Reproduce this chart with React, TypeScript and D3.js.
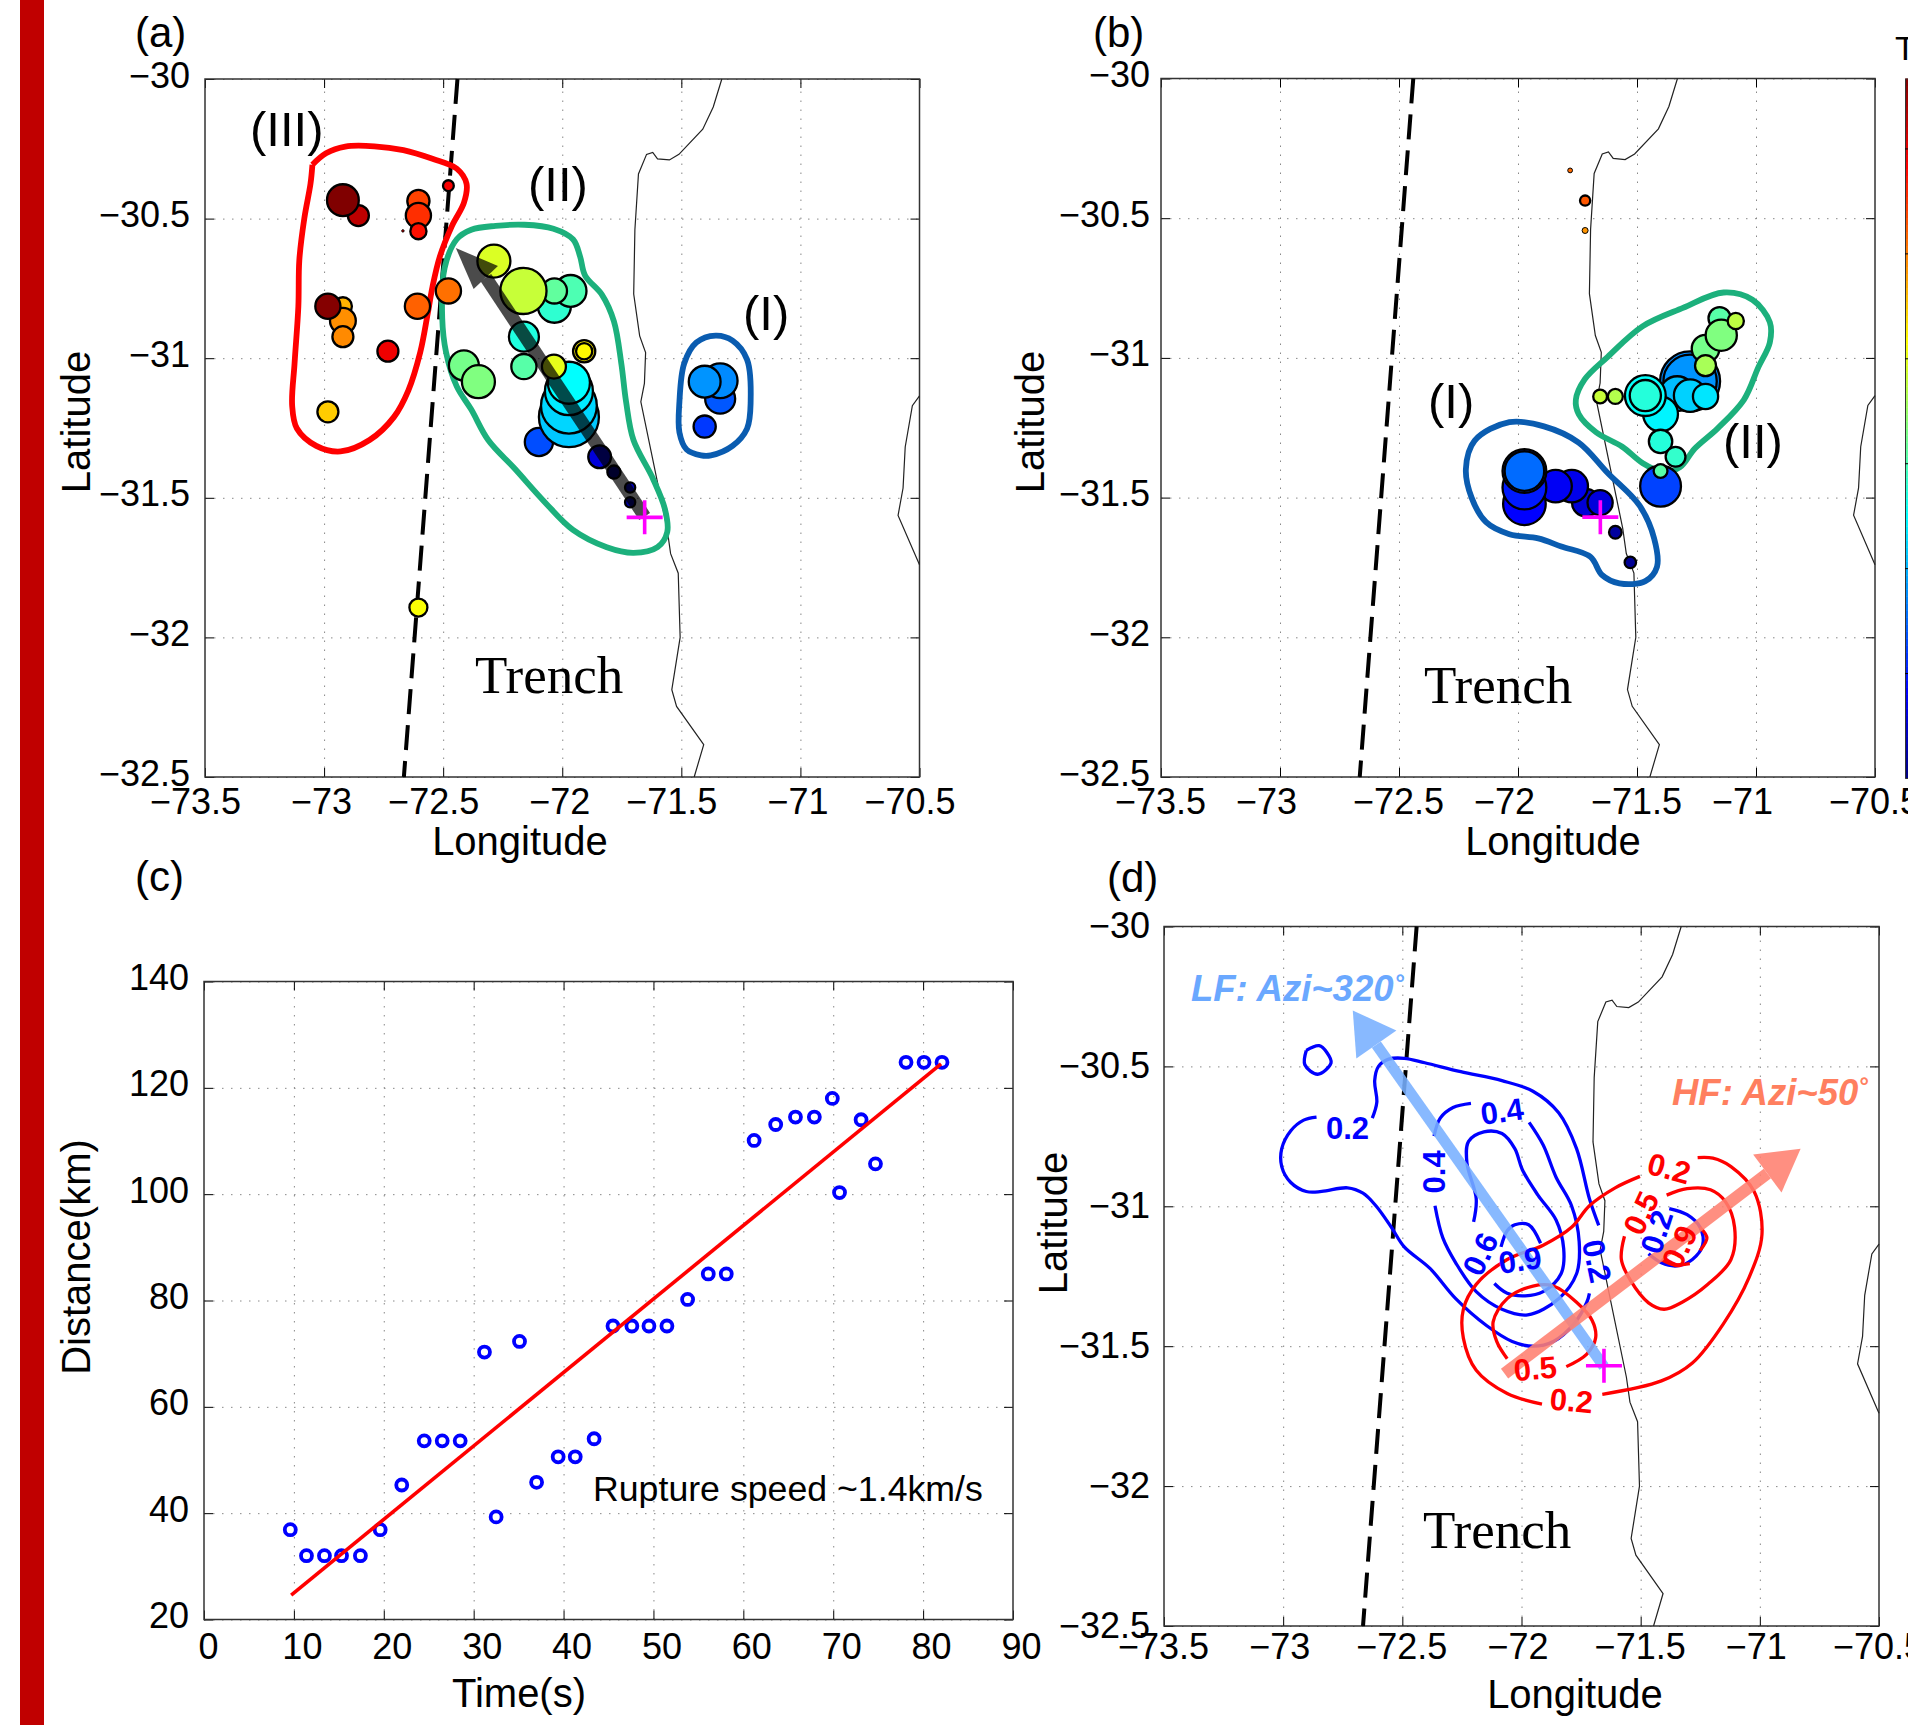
import React, { useEffect, useRef } from 'react';
import * as d3 from 'd3';

const lonTicks = [-73.5, -73, -72.5, -72, -71.5, -71, -70.5];
const latTicks = [-30, -30.5, -31, -31.5, -32, -32.5];
const timeTicks = [0, 10, 20, 30, 40, 50, 60, 70, 80, 90];
const distTicks = [20, 40, 60, 80, 100, 120, 140];

const epicenter = [-71.654, -31.57];

// lon, lat
const trench = [[-72.44, -30], [-72.665, -32.5]];
const coastMain = [
  [-71.33, -30], [-71.366, -30.1], [-71.41, -30.18], [-71.51, -30.27], [-71.55, -30.29], [-71.6, -30.286],
  [-71.62, -30.263], [-71.646, -30.27], [-71.68, -30.34], [-71.695, -30.54], [-71.7, -30.77], [-71.675, -30.92],
  [-71.65, -30.98], [-71.655, -31.09], [-71.67, -31.156], [-71.56, -31.61], [-71.545, -31.7], [-71.513, -31.77],
  [-71.505, -32], [-71.54, -32.187], [-71.52, -32.247], [-71.406, -32.384], [-71.446, -32.5],
];
const coastEast = [
  [-70.5, -31.135], [-70.53, -31.17], [-70.56, -31.318], [-70.569, -31.465], [-70.59, -31.563], [-70.5, -31.74],
];

// lon, lat, size (0-1), time
const eventsA = [
  [-71.783, -31.408, 0.22, 2], [-71.715, -31.516, 0.17, 3], [-71.715, -31.463, 0.17, 6], [-71.843, -31.353, 0.38, 9],
  [-71.402, -31.245, 0.37, 18], [-72.098, -31.3, 0.47, 20], [-71.337, -31.145, 0.5, 21], [-71.337, -31.081, 0.58, 26],
  [-71.402, -31.084, 0.53, 27], [-71.972, -31.211, 1, 32], [-71.972, -31.17, 0.93, 33.5], [-71.972, -31.118, 0.8, 35.5],
  [-71.972, -31.088, 0.7, 37.5], [-72.161, -30.923, 0.5, 40.5], [-72.033, -30.814, 0.55, 42],
  [-71.965, -30.759, 0.53, 45], [-72.161, -31.03, 0.42, 46], [-72.033, -30.759, 0.42, 47], [-72.413, -31.026, 0.5, 49],
  [-72.352, -31.084, 0.55, 50], [-72.163, -30.759, 0.77, 57], [-72.287, -30.652, 0.55, 59], [-72.035, -31.03, 0.4, 60],
  [-72.604, -31.893, 0.3, 62], [-71.908, -30.975, 0.37, 64], [-71.908, -30.975, 0.27, 63], [-72.984, -31.192, 0.35, 67.5],
  [-72.921, -30.814, 0.3, 70], [-72.921, -30.866, 0.43, 73.5], [-72.921, -30.923, 0.35, 74], [-72.478, -30.759, 0.42, 76.5],
  [-72.608, -30.814, 0.42, 78], [-72.604, -30.437, 0.37, 81], [-72.604, -30.489, 0.42, 83], [-72.604, -30.545, 0.27, 86],
  [-72.669, -30.544, 0.04, 87], [-72.478, -30.382, 0.18, 88], [-72.732, -30.975, 0.35, 89], [-72.856, -30.489, 0.35, 94],
  [-72.984, -30.814, 0.42, 99.5], [-72.921, -30.434, 0.53, 100],
];
const eventsB = [
  [-71.528, -31.732, 0.19, 2], [-71.591, -31.624, 0.21, 3], [-71.715, -31.518, 0.46, 8.5], [-71.655, -31.518, 0.42, 9],
  [-71.774, -31.459, 0.54, 10.5], [-71.842, -31.459, 0.54, 11.5], [-71.973, -31.522, 0.71, 12.5], [-71.973, -31.464, 0.73, 15],
  [-71.973, -31.405, 0.73, 18.5], [-71.401, -31.459, 0.68, 19], [-71.973, -31.405, 0.66, 23],
  [-71.277, -31.084, 1, 26], [-71.277, -31.084, 0.89, 27], [-71.331, -31.128, 0.58, 31], [-71.277, -31.135, 0.54, 33],
  [-71.212, -31.138, 0.42, 35], [-71.401, -31.201, 0.58, 36.5], [-71.465, -31.135, 0.68, 38], [-71.465, -31.135, 0.52, 41],
  [-71.401, -31.299, 0.39, 41], [-71.338, -31.354, 0.33, 42.5], [-71.401, -31.405, 0.23, 46], [-71.153, -30.858, 0.37, 46],
  [-71.212, -30.967, 0.46, 49], [-71.146, -30.919, 0.52, 50], [-71.212, -31.028, 0.35, 54], [-71.591, -31.138, 0.25, 55],
  [-71.085, -30.868, 0.27, 56], [-71.655, -31.138, 0.23, 57], [-71.718, -30.544, 0.1, 73], [-71.781, -30.329, 0.08, 77],
  [-71.718, -30.437, 0.17, 79],
];

// hand drawn region outlines
const regionA3 = [
  [-73.049, -30.307], [-72.992, -30.266], [-72.911, -30.242], [-72.789, -30.241], [-72.667, -30.255], [-72.545, -30.286],
  [-72.443, -30.321], [-72.402, -30.375], [-72.413, -30.444], [-72.463, -30.526], [-72.514, -30.636], [-72.545, -30.745],
  [-72.565, -30.841], [-72.596, -30.978], [-72.646, -31.115], [-72.707, -31.211], [-72.809, -31.293], [-72.931, -31.334],
  [-73.033, -31.314], [-73.114, -31.252], [-73.134, -31.17], [-73.124, -31.019], [-73.108, -30.814], [-73.104, -30.649],
  [-73.083, -30.499], [-73.057, -30.375], [-73.049, -30.307],
];
const regionA2 = [
  [-72.443, -30.574], [-72.382, -30.54], [-72.28, -30.526], [-72.159, -30.522], [-72.037, -30.536], [-71.955, -30.574],
  [-71.925, -30.636], [-71.904, -30.704], [-71.833, -30.773], [-71.783, -30.868], [-71.752, -31.019], [-71.732, -31.156],
  [-71.701, -31.293], [-71.62, -31.43], [-71.569, -31.54], [-71.559, -31.622], [-71.6, -31.677], [-71.701, -31.697],
  [-71.813, -31.677], [-71.955, -31.615], [-72.077, -31.512], [-72.199, -31.396], [-72.311, -31.293], [-72.382, -31.184],
  [-72.443, -31.101], [-72.488, -30.978], [-72.504, -30.855], [-72.494, -30.677],
];
const regionA1 = [
  [-71.376, -31.348], [-71.285, -31.314], [-71.224, -31.252], [-71.209, -31.156], [-71.224, -31.005], [-71.285, -30.937],
  [-71.356, -30.919], [-71.437, -30.944], [-71.488, -31.019], [-71.508, -31.156], [-71.508, -31.266], [-71.478, -31.327],
  [-71.417, -31.348],
];
const regionB1 = [
  [-72.036, -31.23], [-71.891, -31.245], [-71.745, -31.303], [-71.623, -31.412], [-71.489, -31.529], [-71.428, -31.646],
  [-71.416, -31.748], [-71.465, -31.799], [-71.574, -31.807], [-71.647, -31.777], [-71.696, -31.712], [-71.818, -31.675],
  [-71.915, -31.646], [-72.036, -31.631], [-72.134, -31.588], [-72.195, -31.5], [-72.219, -31.398], [-72.182, -31.296],
];
const regionB2 = [
  [-71.136, -30.766], [-71.015, -30.792], [-70.942, -30.872], [-70.942, -30.945], [-70.99, -31.033], [-71.051, -31.15],
  [-71.161, -31.252], [-71.258, -31.325], [-71.319, -31.391], [-71.392, -31.408], [-71.477, -31.376], [-71.562, -31.318],
  [-71.672, -31.266], [-71.745, -31.201], [-71.757, -31.15], [-71.72, -31.077], [-71.623, -30.996], [-71.477, -30.887],
  [-71.307, -30.821],
];

// panel d, low frequency contours
const lfContours = [
  [[-72.903, -30.443], [-72.849, -30.426], [-72.816, -30.451], [-72.799, -30.487], [-72.855, -30.528], [-72.909, -30.494], [-72.903, -30.443]],
  [[-72.86, -30.681], [-72.914, -30.692], [-72.968, -30.73], [-73.006, -30.794], [-73.006, -30.858], [-72.968, -30.915],
    [-72.903, -30.947], [-72.838, -30.947], [-72.73, -30.934], [-72.665, -30.953], [-72.611, -30.998], [-72.546, -31.075],
    [-72.492, -31.145], [-72.384, -31.222], [-72.276, -31.33], [-72.147, -31.426], [-72.039, -31.483], [-71.952, -31.5],
    [-71.866, -31.483], [-71.78, -31.42], [-71.726, -31.343], [-71.715, -31.311]],
  [[-71.676, -31.068], [-71.715, -30.973], [-71.769, -30.794], [-71.844, -30.666], [-71.952, -30.589], [-72.082, -30.551],
    [-72.255, -30.519], [-72.406, -30.487], [-72.492, -30.471], [-72.557, -30.474], [-72.6, -30.5], [-72.616, -30.551],
    [-72.607, -30.628], [-72.626, -30.685]],
  [[-72.367, -30.749], [-72.341, -30.685], [-72.287, -30.647], [-72.212, -30.632]],
  [[-71.968, -30.7], [-71.909, -30.781], [-71.855, -30.896], [-71.79, -30.998], [-71.758, -31.126], [-71.769, -31.241],
    [-71.844, -31.33], [-71.974, -31.388], [-72.082, -31.368], [-72.19, -31.305], [-72.276, -31.202], [-72.33, -31.113], [-72.363, -30.998]],
  [[-72.201, -31.056], [-72.19, -30.973], [-72.229, -30.845], [-72.222, -30.768], [-72.158, -30.734], [-72.082, -30.74],
    [-72.028, -30.794], [-71.996, -30.87], [-71.931, -30.96], [-71.855, -31.049], [-71.823, -31.151], [-71.834, -31.241],
    [-71.909, -31.305], [-71.985, -31.32], [-72.06, -31.311], [-72.114, -31.276]],
  [[-72.086, -31.145], [-72.06, -31.087], [-72.028, -31.066], [-71.97, -31.066], [-71.92, -31.132]],
  [[-71.38, -31.008], [-71.305, -31.03], [-71.251, -31.075], [-71.24, -31.139], [-71.283, -31.19], [-71.348, -31.213], [-71.413, -31.202], [-71.467, -31.17]],
];
// panel d, high frequency contours
const hfContours = [
  [[-71.503, -30.893], [-71.607, -30.934], [-71.715, -30.998], [-71.79, -31.075], [-71.909, -31.139], [-72.06, -31.19],
    [-72.19, -31.279], [-72.244, -31.368], [-72.244, -31.471], [-72.19, -31.586], [-72.06, -31.669], [-71.914, -31.707]],
  [[-71.661, -31.672], [-71.413, -31.624], [-71.283, -31.56], [-71.153, -31.42], [-71.045, -31.254], [-70.991, -31.1],
    [-71.024, -30.947], [-71.121, -30.858], [-71.197, -30.828], [-71.261, -30.826]],
  [[-71.391, -30.96], [-71.305, -30.937], [-71.207, -30.941], [-71.143, -30.985], [-71.106, -31.075], [-71.121, -31.19],
    [-71.218, -31.279], [-71.326, -31.343], [-71.402, -31.368], [-71.467, -31.345], [-71.542, -31.266], [-71.581, -31.19], [-71.568, -31.107]],
  [[-71.251, -31.075], [-71.222, -31.113], [-71.251, -31.158]],
  [[-71.413, -31.19], [-71.359, -31.209], [-71.294, -31.205]],
  [[-72.06, -31.545], [-72.104, -31.483], [-72.119, -31.413], [-72.06, -31.33], [-71.952, -31.285], [-71.866, -31.285],
    [-71.769, -31.343], [-71.704, -31.407], [-71.689, -31.471], [-71.726, -31.528], [-71.812, -31.573]],
];
// text, lon, lat, rotation
const lfLabels = [
  ['0.2', -72.73, -30.72, 0], ['0.4', -72.082, -30.66, -8], ['0.4', -72.367, -30.877, -90], ['0.6', -72.173, -31.17, -65],
  ['0.9', -72.006, -31.192, -8], ['0.2', -71.683, -31.196, 78], ['0.2', -71.434, -31.091, -72],
];
const hfLabels = [
  ['0.2', -71.38, -30.864, 15], ['0.5', -71.499, -31.024, -65], ['0.9', -71.337, -31.145, -65], ['0.5', -71.942, -31.579, -5], ['0.2', -71.79, -31.694, 5],
];

// tail, tip, barb, barb
const arrowRupture = [[-71.654, -31.567], [-72.447, -30.605], [-72.27, -30.67], [-72.372, -30.752]];
const arrowLF = [[-71.654, -31.573], [-72.708, -30.3], [-72.525, -30.372], [-72.693, -30.472]];
const arrowHF = [[-72.071, -31.598], [-70.829, -30.794], [-71.028, -30.815], [-70.909, -30.951]];

// panel c
const ruptureTime = [
  9.6, 11.4, 13.4, 15.3, 17.4, 19.6, 22, 24.5, 26.5, 28.5, 31.2, 32.5, 35.1, 37, 39.4, 41.3, 43.4, 45.5, 47.6, 49.5,
  51.5, 53.8, 56.1, 58.1, 61.2, 63.6, 65.8, 67.9, 69.9, 70.7, 73.1, 74.7, 78.1, 80.1, 82.1,
];
const ruptureDist = [
  36.9, 32, 32, 32, 32, 36.9, 45.3, 53.6, 53.6, 53.6, 70.3, 39.3, 72.3, 45.8, 50.6, 50.6, 54, 75.2, 75.2, 75.2,
  75.2, 80.2, 85, 85, 110.1, 113.1, 114.5, 114.5, 118, 100.3, 114, 105.7, 124.8, 124.8, 124.8,
];
const fitTime = [9.7, 82];
const fitDist = [24.6, 124.5];

const colorbarTicks = [15, 30, 45, 60, 75, 90];

const SANS = '"Liberation Sans", Arial, sans-serif';
const SERIF = '"Liberation Serif", serif';

const jet = d3.scaleLinear<string>()
  .domain([0, 12.5, 37.5, 62.5, 87.5, 100])
  .range(['#000080', '#0000ff', '#00ffff', '#ffff00', '#ff0000', '#800000']);

const sizeScale = d3.scaleLinear().domain([0, 1]).range([0, 30]);
const numFmt = d3.format('');

function addText(g, txt, x, y, size, opts: any = {}) {
  const t = g.append('text')
    .attr('x', x)
    .attr('y', y)
    .attr('font-size', size)
    .attr('font-family', opts.family || SANS)
    .attr('fill', opts.fill || '#000')
    .attr('text-anchor', opts.anchor || 'start')
    .text(txt);
  if (opts.weight) t.attr('font-weight', opts.weight);
  if (opts.italic) t.attr('font-style', 'italic');
  if (opts.rotate !== undefined) t.attr('transform', 'rotate(' + opts.rotate + ' ' + x + ' ' + y + ')');
  return t;
}

// grid, ticks on all four sides, box and tick labels
function drawFrame(g, x, y, box, xTicks, yTicks, o) {
  const w = box.right - box.left;
  const h = box.bottom - box.top;

  const grid = g.append('g').attr('class', 'grid');
  grid.append('g').attr('transform', 'translate(0,' + box.bottom + ')')
    .call(d3.axisBottom(x).tickValues(xTicks.slice(1, -1)).tickSize(-h).tickFormat(() => ''));
  grid.append('g').attr('transform', 'translate(' + box.left + ',0)')
    .call(d3.axisLeft(y).tickValues(yTicks).tickSize(-w).tickFormat(() => ''));
  grid.selectAll('.domain').remove();
  grid.selectAll('line').attr('stroke', '#888').attr('stroke-width', 1).attr('stroke-dasharray', '1.5 7.5');

  const bottomAxis = g.append('g').attr('transform', 'translate(0,' + box.bottom + ')')
    .call(d3.axisBottom(x).tickValues(xTicks).tickSizeInner(-9).tickSizeOuter(0).tickFormat(numFmt));
  bottomAxis.selectAll('text')
    .attr('y', o.xBaseline).attr('dy', 0)
    .attr('dx', (d, i) => o.xShift(d, i))
    .attr('font-size', 36).attr('font-family', SANS).attr('fill', '#000');

  const leftAxis = g.append('g').attr('transform', 'translate(' + box.left + ',0)')
    .call(d3.axisLeft(y).tickValues(yTicks).tickSizeInner(-9).tickSizeOuter(0).tickFormat(numFmt));
  leftAxis.selectAll('text')
    .attr('x', -o.yGap).attr('y', o.yBaseline).attr('dy', 0)
    .attr('font-size', 36).attr('font-family', SANS).attr('fill', '#000');

  g.append('g').attr('transform', 'translate(0,' + box.top + ')')
    .call(d3.axisTop(x).tickValues(xTicks).tickSizeInner(-9).tickSizeOuter(0).tickFormat(() => ''));
  g.append('g').attr('transform', 'translate(' + box.right + ',0)')
    .call(d3.axisRight(y).tickValues(yTicks).tickSizeInner(-9).tickSizeOuter(0).tickFormat(() => ''));
  g.selectAll('.domain').remove();

  g.append('rect')
    .attr('x', box.left).attr('y', box.top).attr('width', w).attr('height', h)
    .attr('fill', 'none').attr('stroke', '#333').attr('stroke-width', 1.5);
}

function drawBase(g, x, y, box, o) {
  drawFrame(g, x, y, box, lonTicks, latTicks, o);
  const line = d3.line().x((d) => x(d[0])).y((d) => y(d[1]));

  g.append('path').attr('d', line(coastMain)).attr('fill', 'none').attr('stroke', '#222').attr('stroke-width', 1.2);
  g.append('path').attr('d', line(coastEast)).attr('fill', 'none').attr('stroke', '#222').attr('stroke-width', 1.2);
  g.append('path').attr('d', line(trench))
    .attr('fill', 'none').attr('stroke', '#000').attr('stroke-width', 4).attr('stroke-dasharray', '25 11');
}

function drawRegion(g, x, y, pts, color, closed = true) {
  const line = d3.line().x((d) => x(d[0])).y((d) => y(d[1]))
    .curve(closed ? d3.curveCatmullRomClosed : d3.curveCatmullRom);
  g.append('path').attr('d', line(pts)).attr('fill', 'none').attr('stroke', color).attr('stroke-width', 5.8);
}

function drawEvents(g, x, y, events) {
  g.append('g').selectAll('circle').data(events).join('circle')
    .attr('cx', (d) => x(d[0]))
    .attr('cy', (d) => y(d[1]))
    .attr('r', (d) => sizeScale(d[2]))
    .attr('fill', (d) => jet(d[3]))
    .attr('stroke', '#000')
    .attr('stroke-width', (d) => (d[2] < 0.12 ? 1 : 2.3));
}

function drawArrow(g, x, y, arrow, color, opacity, shaftW) {
  const [tail, tip, b1, b2] = arrow;
  const neck = [(b1[0] + b2[0]) / 2, (b1[1] + b2[1]) / 2];
  const a = g.append('g').attr('opacity', opacity);
  a.append('line')
    .attr('x1', x(tail[0])).attr('y1', y(tail[1]))
    .attr('x2', x(neck[0])).attr('y2', y(neck[1]))
    .attr('stroke', color).attr('stroke-width', shaftW);
  const tri = d3.line().x((d) => x(d[0])).y((d) => y(d[1]));
  a.append('path').attr('d', tri([tip, b1, b2]) + 'Z').attr('fill', color);
}

function drawCross(g, x, y) {
  const cx = x(epicenter[0]);
  const cy = y(epicenter[1]);
  g.append('path')
    .attr('d', 'M' + (cx - 18) + ',' + cy + 'H' + (cx + 18) + 'M' + cx + ',' + (cy - 17) + 'V' + (cy + 17))
    .attr('stroke', '#ff00ff').attr('stroke-width', 3.6).attr('fill', 'none');
}

function drawContours(g, x, y, segs, color) {
  const line = d3.line().x((d) => x(d[0])).y((d) => y(d[1])).curve(d3.curveCatmullRom);
  segs.forEach((s) => {
    g.append('path').attr('d', line(s)).attr('fill', 'none').attr('stroke', color).attr('stroke-width', 3.3);
  });
}

function drawContourLabels(g, x, y, labels, color) {
  labels.forEach((l) => {
    addText(g, l[0], x(l[1]), y(l[2]) + 11, 31, { fill: color, weight: 'bold', anchor: 'middle' })
      .attr('transform', 'rotate(' + l[3] + ' ' + x(l[1]) + ' ' + y(l[2]) + ')');
  });
}

function renderAll(node) {
  const svg = d3.select(node);
  svg.selectAll('*').remove();

  svg.append('rect').attr('x', 20).attr('y', 0).attr('width', 24).attr('height', 1725).attr('fill', '#c00000');

  // (a)
  const boxA = { left: 205, right: 919.5, top: 79, bottom: 777 };
  const xA = d3.scaleLinear().domain([-73.5, -70.5]).range([boxA.left, boxA.right]);
  const yA = d3.scaleLinear().domain([-32.5, -30]).range([boxA.bottom, boxA.top]);
  const gA = svg.append('g');
  drawBase(gA, xA, yA, boxA, {
    xBaseline: 37, yBaseline: 8, yGap: 15,
    xShift: (d) => (d % 1 === 0 ? -3 : -10),
  });
  drawRegion(gA, xA, yA, regionA3, '#ff0000', false);
  drawRegion(gA, xA, yA, regionA2, '#1cb07c');
  drawRegion(gA, xA, yA, regionA1, '#0a5cb0');
  drawEvents(gA, xA, yA, eventsA);
  drawArrow(gA, xA, yA, arrowRupture, '#000', 0.7, 13);
  drawCross(gA, xA, yA);
  addText(gA, '(a)', 135, 47, 42);
  addText(gA, '(III)', 250, 146, 49);
  addText(gA, '(II)', 528, 201, 49);
  addText(gA, '(I)', 743, 330, 49);
  addText(gA, 'Trench', 475, 693, 53, { family: SERIF });
  addText(gA, 'Longitude', 520, 855, 40, { anchor: 'middle' });
  addText(gA, 'Latitude', 90, 422, 40, { anchor: 'middle', rotate: -90 });

  // (b)
  const boxB = { left: 1161, right: 1875, top: 78.5, bottom: 777 };
  const xB = d3.scaleLinear().domain([-73.5, -70.5]).range([boxB.left, boxB.right]);
  const yB = d3.scaleLinear().domain([-32.5, -30]).range([boxB.bottom, boxB.top]);
  const gB = svg.append('g');
  drawBase(gB, xB, yB, boxB, {
    xBaseline: 37, yBaseline: 8, yGap: 11,
    xShift: (d) => (d % 1 === 0 ? -14 : -1),
  });
  drawRegion(gB, xB, yB, regionB1, '#0a5cb0');
  drawRegion(gB, xB, yB, regionB2, '#1cb07c');
  drawEvents(gB, xB, yB, eventsB);
  drawCross(gB, xB, yB);
  addText(gB, '(b)', 1093, 47, 42);
  addText(gB, '(I)', 1428, 418, 49);
  addText(gB, '(II)', 1723, 458, 49);
  addText(gB, 'Trench', 1424, 703, 53, { family: SERIF });
  addText(gB, 'Longitude', 1553, 855, 40, { anchor: 'middle' });
  addText(gB, 'Latitude', 1044, 422, 40, { anchor: 'middle', rotate: -90 });

  // colorbar, runs off the right edge of the page
  const cbar = d3.scaleLinear().domain([0, 100]).range([778, 78.5]);
  svg.append('g').selectAll('rect').data(d3.range(0, 100)).join('rect')
    .attr('x', 1905).attr('width', 4)
    .attr('y', (d) => cbar(d + 1))
    .attr('height', (d) => cbar(d) - cbar(d + 1) + 0.5)
    .attr('fill', (d) => jet(d + 0.5));
  svg.append('g').attr('transform', 'translate(1905,0)')
    .call(d3.axisRight(cbar).tickValues(colorbarTicks).tickSize(3).tickFormat(() => ''))
    .select('.domain').attr('stroke', '#333');
  addText(svg, 'Time(s)', 1895, 60, 34);

  // (c)
  const boxC = { left: 204, right: 1013, top: 981.5, bottom: 1619.5 };
  const xC = d3.scaleLinear().domain([0, 90]).range([boxC.left, boxC.right]);
  const yC = d3.scaleLinear().domain([20, 140]).range([boxC.bottom, boxC.top]);
  const gC = svg.append('g');
  drawFrame(gC, xC, yC, boxC, timeTicks, distTicks, {
    xBaseline: 39, yBaseline: 8, yGap: 15,
    xShift: (d) => (d === 0 ? 4 : 8),
  });
  gC.append('g').selectAll('circle').data(ruptureTime).join('circle')
    .attr('cx', (d) => xC(d))
    .attr('cy', (d, i) => yC(ruptureDist[i]))
    .attr('r', 5.5)
    .attr('fill', 'none').attr('stroke', '#0000ff').attr('stroke-width', 3.8);
  gC.append('line')
    .attr('x1', xC(fitTime[0])).attr('y1', yC(fitDist[0]))
    .attr('x2', xC(fitTime[1])).attr('y2', yC(fitDist[1]))
    .attr('stroke', '#ff0000').attr('stroke-width', 3.6);
  addText(gC, '(c)', 135, 891, 42);
  addText(gC, 'Rupture speed ~1.4km/s', 593, 1501, 35.7);
  addText(gC, 'Time(s)', 519, 1707, 40, { anchor: 'middle' });
  addText(gC, 'Distance(km)', 90, 1257, 40, { anchor: 'middle', rotate: -90 });

  // (d)
  const boxD = { left: 1164, right: 1879, top: 926.5, bottom: 1626 };
  const xD = d3.scaleLinear().domain([-73.5, -70.5]).range([boxD.left, boxD.right]);
  const yD = d3.scaleLinear().domain([-32.5, -30]).range([boxD.bottom, boxD.top]);
  const gD = svg.append('g');
  drawBase(gD, xD, yD, boxD, {
    xBaseline: 33, yBaseline: 11, yGap: 14,
    xShift: (d) => (d % 1 === 0 ? -4 : -1),
  });
  drawContours(gD, xD, yD, lfContours, '#0000ff');
  drawContours(gD, xD, yD, hfContours, '#ff0000');
  drawArrow(gD, xD, yD, arrowLF, '#78b0ff', 0.88, 11);
  drawArrow(gD, xD, yD, arrowHF, '#ff8070', 0.88, 12);
  drawContourLabels(gD, xD, yD, lfLabels, '#0000ff');
  drawContourLabels(gD, xD, yD, hfLabels, '#ff0000');
  drawCross(gD, xD, yD);
  addText(gD, '(d)', 1107, 892, 42);
  addText(gD, 'LF: Azi~320', 1191, 1001, 36.5, { fill: '#6aa8ff', weight: 'bold', italic: true });
  addText(gD, '°', 1399, 991, 24, { fill: '#6aa8ff', weight: 'bold', italic: true, anchor: 'middle' });
  addText(gD, 'HF: Azi~50', 1672, 1105, 36.5, { fill: '#ff7f5f', weight: 'bold', italic: true });
  addText(gD, '°', 1863, 1094, 24, { fill: '#ff7f5f', weight: 'bold', italic: true, anchor: 'middle' });
  addText(gD, 'Trench', 1423, 1548, 53, { family: SERIF });
  addText(gD, 'Longitude', 1575, 1708, 40, { anchor: 'middle' });
  addText(gD, 'Latitude', 1067, 1223, 40, { anchor: 'middle', rotate: -90 });
}

export default function App() {
  const ref = useRef(null);

  useEffect(() => {
    renderAll(ref.current);
  }, []);

  return (
    <svg
      ref={ref}
      width={1908}
      height={1725}
      style={{ position: 'absolute', left: 0, top: 0, display: 'block', background: '#fff' }}
    />
  );
}
